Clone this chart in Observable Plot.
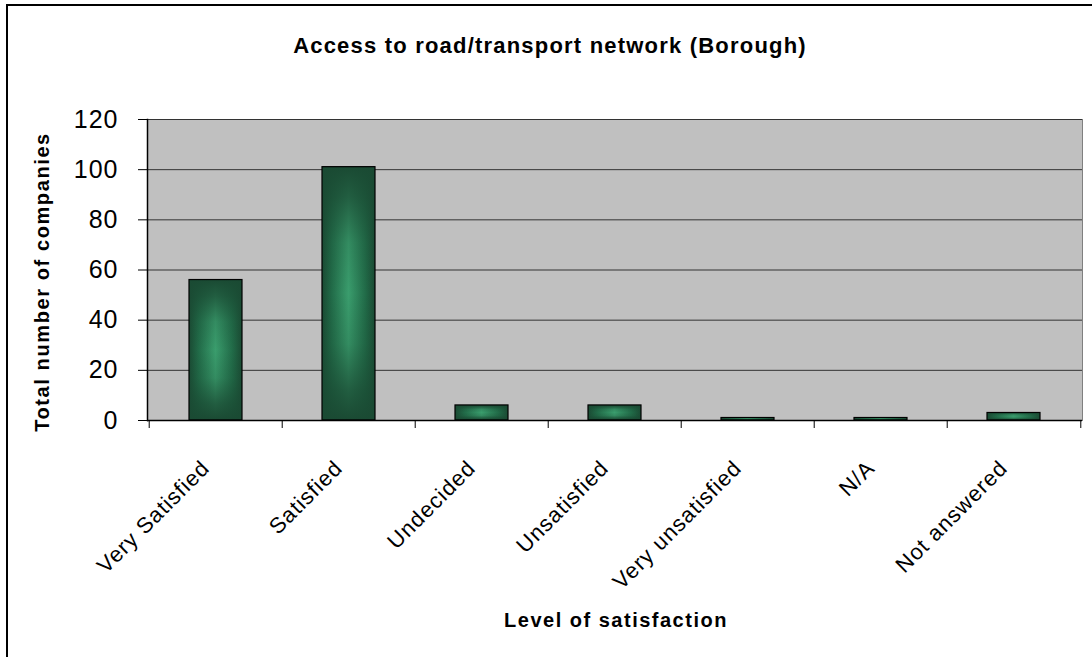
<!DOCTYPE html>
<html>
<head>
<meta charset="utf-8">
<script src="https://cdn.jsdelivr.net/npm/d3@7"></script>
<script src="https://cdn.jsdelivr.net/npm/@observablehq/plot@0.6"></script>
<style>
  html, body { margin: 0; padding: 0; background: #fff; }
  #wrap { position: relative; width: 1092px; height: 657px; overflow: hidden; font-family: Arial, "Liberation Sans", sans-serif; }
  #border { position: absolute; left: 6px; top: 4px; width: 1200px; height: 800px; border-top: 2px solid #000; border-left: 2px solid #000; box-sizing: border-box; }
  #title { position: absolute; left: 0; width: 1100px; top: 33px; text-align: center; font-weight: bold; font-size: 22px; letter-spacing: 1.2px; color: #000; }
  #xlabel { position: absolute; left: 0; width: 1232px; top: 609px; text-align: center; font-weight: bold; font-size: 20px; letter-spacing: 1.5px; color: #000; }
  #ylabel { position: absolute; left: 42px; top: 282px; transform: translate(-50%, -50%) rotate(-90deg); white-space: nowrap; font-weight: bold; font-size: 20px; letter-spacing: 1.6px; color: #000; }
  #chart { position: absolute; left: 0; top: 0; }
  #chart svg text { letter-spacing: 1px; font-size: 25px !important; font-family: Arial, "Liberation Sans", sans-serif; }
  #chart svg g[aria-label="x-axis tick label"] text { font-size: 22px !important; letter-spacing: 1px; }
</style>
</head>
<body>
<div id="wrap">
  <div id="border"></div>
  <div id="chart"></div>
  <div id="title">Access to road/transport network (Borough)</div>
  <div id="ylabel">Total number of companies</div>
  <div id="xlabel">Level of satisfaction</div>
</div>
<script>
const categories = ["Very Satisfied", "Satisfied", "Undecided", "Unsatisfied", "Very unsatisfied", "N/A", "Not answered"];
const values = [56, 101, 6, 6, 1, 1, 3];
const yTicks = [0, 20, 40, 60, 80, 100, 120];

const data = categories.map((c, i) => ({category: c, value: values[i]}));

const W = 1092, H = 657;
const mL = 147, mR = 10, mT = 119, mB = 237;
const step = (W - mL - mR) / categories.length;

const plot = Plot.plot({
  width: W,
  height: H,
  marginLeft: mL,
  marginRight: mR,
  marginTop: mT,
  marginBottom: mB,
  style: {fontFamily: 'Arial, "Liberation Sans", sans-serif', fontSize: "25px", color: "#000", background: "transparent", overflow: "visible"},
  x: {type: "band", domain: categories, paddingInner: 0.6, paddingOuter: 0.3, label: null},
  y: {domain: [0, 120], label: null},
  marks: [
    Plot.frame({fill: "#C0C0C0", stroke: "#808080"}),
    Plot.gridY(yTicks, {stroke: "#333", strokeOpacity: 1, strokeWidth: 1}),
    Plot.barY(data, {x: "category", y: "value", fill: "url(#gradH)"}),
    Plot.barY(data, {x: "category", y: "value", fill: "url(#gradV)", stroke: "#000", strokeWidth: 1.2}),
    Plot.ruleY([0], {stroke: "#000", strokeWidth: 1.5}),
    Plot.frame({anchor: "left", stroke: "#000", strokeWidth: 1.5}),
    Plot.axisY({ticks: yTicks, tickSize: 9, tickPadding: 20, stroke: "#000", label: null}),
    Plot.axisX({ticks: categories, tickSize: 8, tickFormat: () => "", dx: -step / 2, stroke: "#000", label: null}),
    Plot.axisX({ticks: [categories[categories.length - 1]], tickSize: 8, tickFormat: () => "", dx: step / 2, stroke: "#000", label: null}),
    Plot.axisX({ticks: categories, tickSize: 0, tickRotate: -45, tickPadding: 44, dx: -10, label: null})
  ]
});

const svg = d3.select(plot);
const defs = svg.insert("defs", ":first-child");
const gh = defs.append("linearGradient").attr("id", "gradH").attr("x1", 0).attr("x2", 1).attr("y1", 0).attr("y2", 0);
gh.append("stop").attr("offset", "0%").attr("stop-color", "#1a4a33");
gh.append("stop").attr("offset", "18%").attr("stop-color", "#216b48");
gh.append("stop").attr("offset", "50%").attr("stop-color", "#3a9d6d");
gh.append("stop").attr("offset", "82%").attr("stop-color", "#216b48");
gh.append("stop").attr("offset", "100%").attr("stop-color", "#1a4a33");
const gv = defs.append("linearGradient").attr("id", "gradV").attr("x1", 0).attr("x2", 0).attr("y1", 0).attr("y2", 1);
gv.append("stop").attr("offset", "0%").attr("stop-color", "#1a4a33").attr("stop-opacity", 1);
gv.append("stop").attr("offset", "12%").attr("stop-color", "#1a4a33").attr("stop-opacity", 0.75);
gv.append("stop").attr("offset", "30%").attr("stop-color", "#1a4a33").attr("stop-opacity", 0.2);
gv.append("stop").attr("offset", "50%").attr("stop-color", "#1a4a33").attr("stop-opacity", 0);
gv.append("stop").attr("offset", "70%").attr("stop-color", "#1a4a33").attr("stop-opacity", 0.2);
gv.append("stop").attr("offset", "88%").attr("stop-color", "#1a4a33").attr("stop-opacity", 0.75);
gv.append("stop").attr("offset", "100%").attr("stop-color", "#1a4a33").attr("stop-opacity", 1);

document.getElementById("chart").appendChild(plot);
</script>
</body>
</html>
